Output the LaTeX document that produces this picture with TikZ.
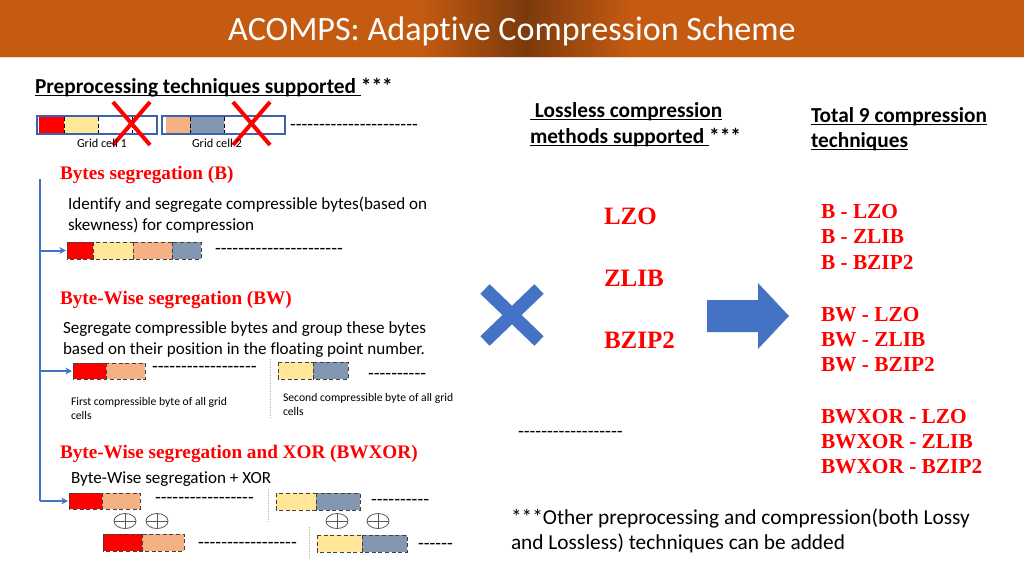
\documentclass[tikz,border=0pt]{standalone}
\usepackage{fontspec}
\newfontfamily\calibri{Carlito}[Ligatures=NoCommon]
\newfontfamily\tnr{Liberation Serif}
\usetikzlibrary{arrows.meta}
\definecolor{ttl}{HTML}{C55A11}
\definecolor{ttldark}{HTML}{7B3A0C}
\definecolor{cblue}{HTML}{4472C4}
\definecolor{cellblue}{HTML}{3A62AE}
\definecolor{byred}{HTML}{FF0000}
\definecolor{byyel}{HTML}{FFE699}
\definecolor{byorg}{HTML}{F4B183}
\definecolor{bygry}{HTML}{8497B0}
\newcommand\ulx[1]{\setbox0\hbox{#1}\rlap{\rule[-0.14em]{\wd0}{0.065em}}\box0}
\begin{document}
\begin{tikzpicture}[x=0.75pt,y=-0.75pt,
  txt/.style={anchor=base west,inner sep=0,outer sep=0},
  body/.style={txt,font=\calibri\fontsize{12.8}{15}\selectfont},
  head/.style={txt,font=\calibri\bfseries\fontsize{16}{19}\selectfont},
  redh/.style={txt,text=byred,font=\tnr\bfseries\fontsize{14.4}{17}\selectfont},
  small/.style={txt,font=\calibri\fontsize{8.75}{10}\selectfont},
  dashtxt/.style={txt,font=\calibri\fontsize{14.25}{16}\selectfont},
  big/.style={txt,text=byred,font=\tnr\bfseries\fontsize{18.75}{22}\selectfont},
  lst/.style={txt,text=byred,font=\tnr\bfseries\fontsize{16}{19}\selectfont},
  foot/.style={txt,font=\calibri\fontsize{16}{19}\selectfont},
  bytebox/.style={draw=black!75,densely dashed,line width=0.5pt},
  cellbox/.style={draw=cellblue,line width=1.6pt},
  redx/.style={draw=byred,line width=3pt},
  conn/.style={draw=cblue,line width=1.5pt},
  connarrow/.style={conn,-{Stealth[length=5pt,width=5pt]}},
  vdot/.style={draw=gray!60,densely dotted,line width=0.5pt},
  xors/.style={draw=black!65,line width=0.6pt}
]
\useasboundingbox (0,0) rectangle (1024,576);
\fill[white] (0,0) rectangle (1024,576);
% title bar
\fill[ttl] (0,0) rectangle (1024,57);
\shade[left color=ttl,right color=ttl,middle color=ttldark] (420,0) rectangle (630,57);
\draw[ttl!25,line width=0.8pt] (0,57.5) -- (1024,57.5);
\node[anchor=base,inner sep=0,text=white,font=\calibri\fontsize{25.6}{29}\selectfont] (title) at (512,40.5) {ACOMPS: Adaptive Compression Scheme};

% preprocessing heading
\node[head] (pre) at (35,93) {\ulx{Preprocessing techniques supported\ }***};
% grid cells
\fill[byred] (39,117) rectangle (64,133);
\fill[byyel] (64,117) rectangle (98,133);
\draw[black,densely dashed,line width=0.5pt] (64,117) -- (64,133) (98,117) -- (98,133) (132,117) -- (132,133);
\draw[cellbox] (37,116) rectangle (157,134);
\fill[byorg] (166,117) rectangle (190,133);
\fill[bygry] (190,117) rectangle (224,133);
\draw[black,densely dashed,line width=0.5pt] (190,117) -- (190,133) (224,117) -- (224,133);
\draw[cellbox] (162,116) rectangle (285,134);
\draw[redx] (113,102) -- (150,145) (150,102) -- (113,145);
\draw[redx] (233,102) -- (270,145) (270,102) -- (233,145);
\node[dashtxt] (d0) at (290,130) {----------------------};
\node[small,font=\calibri\fontsize{9.2}{10}\selectfont] (gc1) at (77,147) {Grid cell 1};
\node[small,font=\calibri\fontsize{9.2}{10}\selectfont] (gc2) at (192,147) {Grid cell 2};

% Bytes segregation
\node[redh] (hB) at (60,179) {Bytes segregation (B)};
\node[body] (tB1) at (68,209) {Identify and segregate compressible bytes(based on};
\node[body] (tB2) at (68,230) {skewness) for compression};
\draw[bytebox,fill=byred] (67,242) rectangle (93,259);
\draw[bytebox,fill=byyel] (93,242) rectangle (133,259);
\draw[bytebox,fill=byorg] (133,242) rectangle (172,259);
\draw[bytebox,fill=bygry] (172,242) rectangle (201,259);
\coordinate (rowB) at (66,250.5);
\node[dashtxt] (dB) at (215,254) {----------------------};

% Byte-wise segregation
\node[redh] (hBW) at (60,304) {Byte-Wise segregation (BW)};
\node[body] (tBW1) at (63,333) {Segregate compressible bytes and group these bytes};
\node[body] (tBW2) at (63,354) {based on their position in the floating point number.};
\draw[bytebox,fill=byred] (73,363) rectangle (106,379);
\draw[bytebox,fill=byorg] (106,363) rectangle (145,379);
\coordinate (rowBW) at (72,371);
\node[dashtxt] (dBW1) at (152,372) {------------------};
\draw[vdot] (270,359) -- (270,418);
\draw[bytebox,fill=byyel] (278,362) rectangle (313,379);
\draw[bytebox,fill=bygry] (313,362) rectangle (348,379);
\node[dashtxt] (dBW2) at (368,379) {----------};
\node[small] (fc1) at (71,405) {First compressible byte of all grid};
\node[small] (fc2) at (71,419) {cells};
\node[small] (sc1) at (283,401) {Second compressible byte of all grid};
\node[small] (sc2) at (283,415) {cells};

% BWXOR
\node[redh] (hX) at (60,458) {Byte-Wise segregation and XOR (BWXOR)};
\node[body] (tX) at (71,483) {Byte-Wise segregation + XOR};
\draw[bytebox,fill=byred] (69,493) rectangle (102,509);
\draw[bytebox,fill=byorg] (102,493) rectangle (140,509);
\coordinate (rowX) at (68,501);
\node[dashtxt] (dX1) at (155,503) {-----------------};
\draw[vdot] (268,489) -- (268,523);
\draw[bytebox,fill=byyel] (276,493) rectangle (316,510);
\draw[bytebox,fill=bygry] (316,493) rectangle (360,510);
\node[dashtxt] (dX2) at (371,505) {----------};
\foreach \cx in {125,157,337,378}{
  \draw[xors] (\cx,521) ellipse [x radius=11, y radius=7.5];
  \draw[xors] (\cx-11,521) -- (\cx+11,521) (\cx,513.5) -- (\cx,528.5);
}
\draw[bytebox,fill=byred] (103,534) rectangle (142,551);
\draw[bytebox,fill=byorg] (142,534) rectangle (184,551);
\node[dashtxt] (dX3) at (198,548) {-----------------};
\draw[vdot] (309,527) -- (309,558);
\draw[bytebox,fill=byyel] (317,535) rectangle (362,552);
\draw[bytebox,fill=bygry] (362,535) rectangle (407,552);
\node[dashtxt] (dX4) at (418,549) {------};

% connector tree
\coordinate (vtop) at (40,179);
\coordinate (vbot) at (40,501);
\draw[conn] (vtop) -- (vbot);
\draw[connarrow] (rowB -| vtop) -- (rowB);
\draw[connarrow] (rowBW -| vtop) -- (rowBW);
\draw[connarrow] (vbot) -- (rowX);

% middle
\node[head] (ll1) at (530,117) {\ulx{\ Lossless compression}};
\node[head] (ll2) at (530,143) {\ulx{methods supported\ }***};
\draw[cblue,line width=10pt,line cap=butt] (485,289) -- (539,341) (539,289) -- (485,341);
\node[big] (lzo) at (604,224) {LZO};
\node[big] (zlib) at (604,286) {ZLIB};
\node[big] (bzip) at (604,348) {BZIP2};
\node[dashtxt] (dM) at (518,437) {------------------};
\fill[cblue] (707,300) -- (758,300) -- (758,283) -- (789,316) -- (758,349) -- (758,332) -- (707,332) -- cycle;

% right
\node[head] (t9a) at (811,122) {\ulx{Total 9 compression}};
\node[head] (t9b) at (811,147) {\ulx{techniques}};
\node[lst] (r1) at (821,218) {B - LZO};
\node[lst] (r2) at (821,243) {B - ZLIB};
\node[lst] (r3) at (821,269) {B - BZIP2};
\node[lst] (r4) at (821,321) {BW - LZO};
\node[lst] (r5) at (821,346) {BW - ZLIB};
\node[lst] (r6) at (821,371) {BW - BZIP2};
\node[lst] (r7) at (821,423) {BWXOR - LZO};
\node[lst] (r8) at (821,448) {BWXOR - ZLIB};
\node[lst] (r9) at (821,473) {BWXOR - BZIP2};

% footnote
\node[foot] (fn1) at (511,524) {***Other preprocessing and compression(both Lossy};
\node[foot] (fn2) at (511,549) {and Lossless) techniques can be added};
\end{tikzpicture}
\end{document}
